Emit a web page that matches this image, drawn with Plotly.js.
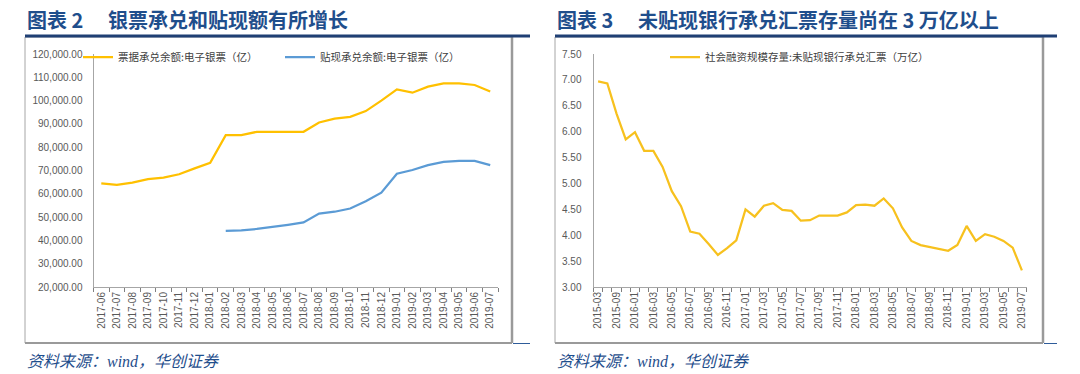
<!DOCTYPE html>
<html>
<head>
<meta charset="utf-8">
<script src="https://cdn.plot.ly/plotly-3.0.1.min.js"></script>
<style>
html,body{margin:0;padding:0;background:#fff;}
#chart{width:1080px;height:374px;}
</style>
</head>
<body>
<div id="chart"></div>
<script>
// ---------- DATA ----------
const months1 = ['2017-06','2017-07','2017-08','2017-09','2017-10','2017-11','2017-12',
  '2018-01','2018-02','2018-03','2018-04','2018-05','2018-06','2018-07','2018-08','2018-09',
  '2018-10','2018-11','2018-12','2019-01','2019-02','2019-03','2019-04','2019-05','2019-06','2019-07'];
const billAcceptance = [64500,63800,64800,66300,66900,68400,70900,73300,85200,85200,86600,86600,
  86600,86600,90600,92300,93000,95500,100000,104800,103400,106000,107400,107400,106700,103900];
const discountAcceptance = [null,null,null,null,null,null,null,null,44100,44300,44900,45700,
  46700,47700,51500,52300,53700,56800,60500,68600,70200,72300,73700,74100,74100,72300];
const series1Name = '票据承兑余额:电子银票（亿）';
const series2Name = '贴现承兑余额:电子银票（亿）';

const months2 = ['2015-03','2015-06','2015-09','2015-12',
  '2016-01','2016-02','2016-03','2016-04','2016-05','2016-06','2016-07','2016-08','2016-09','2016-10','2016-11','2016-12',
  '2017-01','2017-02','2017-03','2017-04','2017-05','2017-06','2017-07','2017-08','2017-09','2017-10','2017-11','2017-12',
  '2018-01','2018-02','2018-03','2018-04','2018-05','2018-06','2018-07','2018-08','2018-09','2018-10','2018-11','2018-12',
  '2019-01','2019-02','2019-03','2019-04','2019-05','2019-06','2019-07'];
const undiscounted = [6.97,6.93,6.35,5.85,5.99,5.63,5.63,5.32,4.85,4.56,4.07,4.03,3.83,3.62,3.75,3.90,
  4.50,4.36,4.57,4.62,4.49,4.47,4.28,4.29,4.38,4.38,4.38,4.44,
  4.58,4.59,4.57,4.71,4.52,4.15,3.89,3.81,3.77,3.73,3.70,3.81,
  4.18,3.89,4.02,3.97,3.89,3.76,3.32];
const series3Name = '社会融资规模存量:未贴现银行承兑汇票（万亿）';

const title1 = '图表 2　 银票承兑和贴现额有所增长';
const title2 = '图表 3　 未贴现银行承兑汇票存量尚在 3 万亿以上';
const source = '资料来源：wind，华创证券';

// ---------- LAYOUT HELPERS ----------
const W = 1080, H = 374;
const px = x => x / W;
const py = y => 1 - y / H;

const tickFont = {family: 'Liberation Sans, Arial, sans-serif', size: 10, color: '#595959'};
const legFont = {family: 'Noto Sans CJK SC, sans-serif', size: 10.5, color: '#404040'};
const navy = '#1F3F74';
const titleColor = '#1F4E8C';

const traces = [
  {x: months1, y: billAcceptance, name: series1Name, type: 'scatter', mode: 'lines',
   line: {color: '#FFC000', width: 2.25}, xaxis: 'x', yaxis: 'y', legend: 'legend'},
  {x: months1, y: discountAcceptance, name: series2Name, type: 'scatter', mode: 'lines',
   line: {color: '#5B9BD5', width: 2.25}, xaxis: 'x', yaxis: 'y', legend: 'legend', connectgaps: false},
  {x: months2, y: undiscounted, name: series3Name, type: 'scatter', mode: 'lines',
   line: {color: '#F7C11E', width: 2.25}, xaxis: 'x2', yaxis: 'y2', legend: 'legend2'}
];

const ticktext2 = months2.map((m, i) => (i % 2 === 0 ? m : ''));

const axisCommon = {showgrid: false, zeroline: false, showline: true, linecolor: '#A6A6A6', linewidth: 1};

const layout = {
  width: W, height: H,
  margin: {l: 0, r: 0, t: 0, b: 0},
  paper_bgcolor: '#ffffff', plot_bgcolor: '#ffffff',
  showlegend: true,
  xaxis: Object.assign({}, axisCommon, {
    domain: [px(93.5), px(498)], anchor: 'y', type: 'category',
    categoryorder: 'array', categoryarray: months1,
    range: [-0.5, months1.length - 0.5],
    tickmode: 'linear', dtick: 1, tick0: 0, tickangle: -90,
    ticks: 'outside', tickson: 'boundaries', ticklen: 4, tickcolor: '#808080',
    tickfont: tickFont
  }),
  yaxis: Object.assign({}, axisCommon, {
    domain: [py(287), py(54)], anchor: 'x',
    range: [20000, 120000], dtick: 10000, tickformat: ',.2f',
    ticks: '', ticklabelstandoff: 8, tickfont: tickFont
  }),
  xaxis2: Object.assign({}, axisCommon, {
    domain: [px(593.5), px(1026.5)], anchor: 'y2', type: 'category',
    categoryorder: 'array', categoryarray: months2,
    range: [-0.5, months2.length - 0.5],
    tickmode: 'array', tickvals: months2, ticktext: ticktext2, tickangle: -90,
    ticks: 'outside', tickson: 'boundaries', ticklen: 4, tickcolor: '#808080',
    tickfont: tickFont
  }),
  yaxis2: Object.assign({}, axisCommon, {
    domain: [py(287), py(54)], anchor: 'x2',
    range: [3, 7.5], dtick: 0.5, tickformat: '.2f',
    ticks: '', ticklabelstandoff: 9, tickfont: tickFont
  }),
  legend: {orientation: 'h', x: px(78), y: py(57), xanchor: 'left', yanchor: 'middle',
    bgcolor: 'rgba(0,0,0,0)', font: legFont, entrywidth: 157, entrywidthmode: 'pixels',
    itemwidth: 30, tracegroupgap: 0},
  legend2: {orientation: 'h', x: px(665), y: py(57), xanchor: 'left', yanchor: 'middle',
    bgcolor: 'rgba(0,0,0,0)', font: legFont, itemwidth: 30},
  shapes: [
    // chart frames
    {type: 'rect', xref: 'paper', yref: 'paper', x0: px(25), x1: px(512), y0: py(343), y1: py(37),
     line: {color: '#A6A6A6', width: 1}, fillcolor: 'rgba(0,0,0,0)', layer: 'below'},
    {type: 'line', xref: 'paper', yref: 'paper', x0: px(512), x1: px(512), y0: py(343), y1: py(37),
     line: {color: '#9A9A9A', width: 2.5}},
    {type: 'line', xref: 'paper', yref: 'paper', x0: px(25), x1: px(512), y0: py(343), y1: py(343),
     line: {color: '#9A9A9A', width: 2}},
    {type: 'rect', xref: 'paper', yref: 'paper', x0: px(555), x1: px(1043), y0: py(343), y1: py(37),
     line: {color: '#A6A6A6', width: 1}, fillcolor: 'rgba(0,0,0,0)', layer: 'below'},
    {type: 'line', xref: 'paper', yref: 'paper', x0: px(1043), x1: px(1043), y0: py(343), y1: py(37),
     line: {color: '#9A9A9A', width: 2.5}},
    {type: 'line', xref: 'paper', yref: 'paper', x0: px(555), x1: px(1043), y0: py(343), y1: py(343),
     line: {color: '#9A9A9A', width: 2}},
    // title underlines
    {type: 'line', xref: 'paper', yref: 'paper', x0: px(25), x1: px(530), y0: py(36), y1: py(36),
     line: {color: navy, width: 3}},
    {type: 'line', xref: 'paper', yref: 'paper', x0: px(555), x1: px(1057), y0: py(36), y1: py(36),
     line: {color: navy, width: 3}},
    // bottom rule stubs
    {type: 'line', xref: 'paper', yref: 'paper', x0: px(513), x1: px(530), y0: py(343.5), y1: py(343.5),
     line: {color: '#2E5C9A', width: 1}},
    {type: 'line', xref: 'paper', yref: 'paper', x0: px(1044), x1: px(1057), y0: py(343.5), y1: py(343.5),
     line: {color: '#2E5C9A', width: 1}}
  ],
  annotations: [
    {xref: 'paper', yref: 'paper', x: px(25), y: py(20), xanchor: 'left', yanchor: 'middle',
     text: '<b>' + title1 + '</b>', showarrow: false,
     font: {family: 'Noto Sans CJK SC, sans-serif', size: 20, color: titleColor}},
    {xref: 'paper', yref: 'paper', x: px(555), y: py(20), xanchor: 'left', yanchor: 'middle',
     text: '<b>' + title2 + '</b>', showarrow: false,
     font: {family: 'Noto Sans CJK SC, sans-serif', size: 20, color: titleColor}},
    {xref: 'paper', yref: 'paper', x: px(25), y: py(361), xanchor: 'left', yanchor: 'middle',
     text: source, showarrow: false,
     font: {family: 'Liberation Serif, Noto Sans CJK SC, serif', size: 16, color: titleColor, style: 'italic'}},
    {xref: 'paper', yref: 'paper', x: px(555), y: py(361), xanchor: 'left', yanchor: 'middle',
     text: source, showarrow: false,
     font: {family: 'Liberation Serif, Noto Sans CJK SC, serif', size: 16, color: titleColor, style: 'italic'}}
  ]
};

Plotly.newPlot('chart', traces, layout, {displayModeBar: false, staticPlot: true});
</script>
</body>
</html>
